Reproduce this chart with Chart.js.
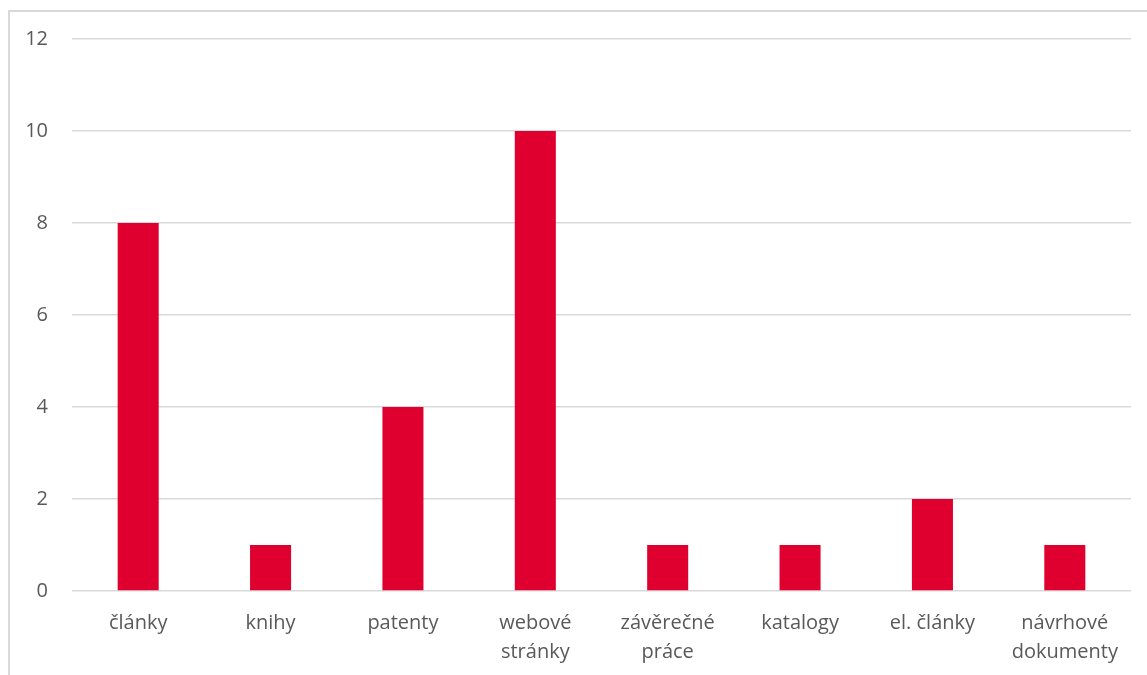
<!DOCTYPE html>
<html>
<head>
<meta charset="utf-8">
<script src="https://cdn.jsdelivr.net/npm/chart.js@4"></script>
<style>
  body { margin: 0; background: #fff; overflow: hidden; }
  #frame { position: absolute; left: 8px; top: 10px; width: 1200px; height: 700px; border: 2px solid #d9d9d9; }
  #wrap { position: absolute; left: 0; top: 0; width: 1147px; height: 675px; }
</style>
</head>
<body>
<div id="frame"></div>
<div id="wrap"><canvas id="chart" width="1147" height="675"></canvas></div>
<script>
const categories = ["články", "knihy", "patenty", ["webové", "stránky"], ["závěrečné", "práce"], "katalogy", "el. články", ["návrhové", "dokumenty"]];
const counts = [8, 1, 4, 10, 1, 1, 2, 1];

const ctx = document.getElementById("chart").getContext("2d");
new Chart(ctx, {
  type: "bar",
  data: {
    labels: categories,
    datasets: [
      { label: "počet", data: counts, backgroundColor: "#df002f", barPercentage: 0.31, categoryPercentage: 1 }
    ]
  },
  options: {
    responsive: false,
    animation: false,
    layout: { padding: { left: 0, right: 16, top: 39, bottom: 0 } },
    plugins: { legend: { display: false }, tooltip: { enabled: false } },
    scales: {
      x: {
        grid: { display: false },
        border: { display: false },
        ticks: { color: "#595959", font: { family: "Open Sans", size: 20, lineHeight: 1.45 }, padding: 10, maxRotation: 0 },
        afterFit: (s) => { s.height = 84; }
      },
      y: {
        min: 0, max: 12,
        grid: { color: "#d9d9d9", lineWidth: 1.5, drawTicks: false },
        border: { display: false },
        ticks: { stepSize: 2, color: "#595959", font: { family: "Open Sans", size: 20 }, padding: 24 },
        afterFit: (s) => { s.width = 72; }
      }
    }
  }
});
</script>
</body>
</html>
